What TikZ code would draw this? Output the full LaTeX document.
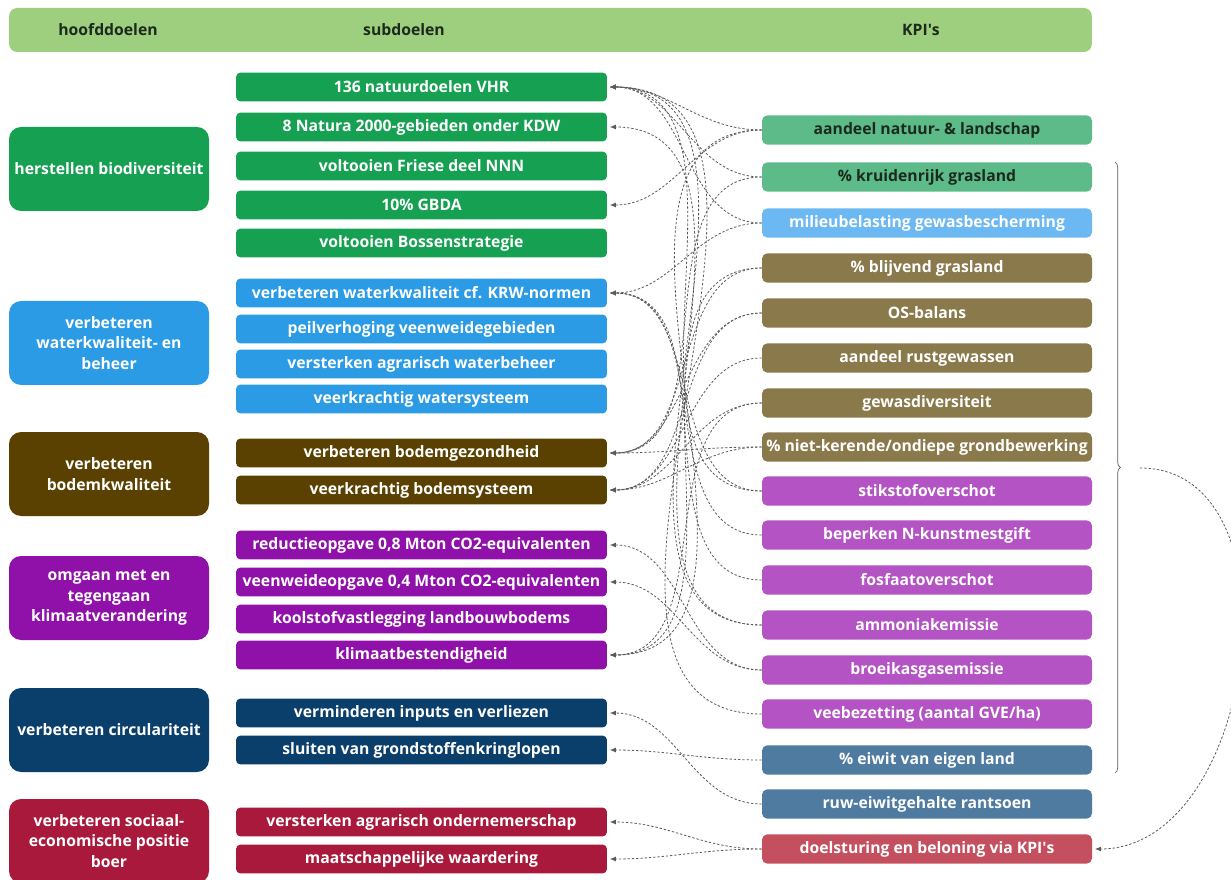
\documentclass[tikz,border=0pt]{standalone}
\usepackage{fontspec}
\setmainfont{Open Sans}
\usetikzlibrary{arrows.meta}
\usetikzlibrary{decorations.pathreplacing}
\definecolor{kopbalk}{HTML}{9DCF7E}
\definecolor{groen}{HTML}{16A052}
\definecolor{lichtgroen}{HTML}{5DBB8A}
\definecolor{blauw}{HTML}{2A9BE4}
\definecolor{lichtblauw}{HTML}{6CB8F2}
\definecolor{bruin}{HTML}{5A4101}
\definecolor{olijf}{HTML}{8A7A4B}
\definecolor{paars}{HTML}{9011A9}
\definecolor{lichtpaars}{HTML}{B453C4}
\definecolor{marine}{HTML}{0B3F6B}
\definecolor{staalblauw}{HTML}{4F7BA1}
\definecolor{karmijn}{HTML}{A8193B}
\definecolor{roze}{HTML}{C4505F}
\definecolor{lijn}{HTML}{5A5A5A}
\definecolor{donkertekst}{HTML}{1C2A1E}

\begin{document}
\begin{tikzpicture}[x=0.75pt, y=-0.75pt, font=\fontsize{11.8}{15.3}\selectfont\bfseries]
            \tikzstyle{hoofddoel} = [rounded corners=9pt, text=white, align=center, minimum width=150pt, minimum height=63pt, inner sep=1pt]
            \tikzstyle{subdoel} = [rounded corners=3pt, text=white, minimum width=278pt, minimum height=21.5pt, inner sep=1pt]
            \tikzstyle{kpi} = [rounded corners=4pt, text=white, minimum width=247.5pt, minimum height=22pt, inner sep=1pt]
            \tikzstyle{koppeling} = [lijn, line width=0.6pt, dash pattern=on 1.8pt off 1.4pt, -{Latex[length=4.5pt, width=3.6pt]}, shorten >=2pt]
            \useasboundingbox (0, 0) rectangle (1231, 880);
            % kopbalk
            \node[fill=kopbalk, rounded corners=6pt, minimum width=812pt, minimum height=33pt] (kop) at (550.5, 30) {};
            \node[text=donkertekst] (kopa) at (108, 30) {hoofddoelen};
            \node[text=donkertekst] (kopb) at (404, 30) {subdoelen};
            \node[text=donkertekst] (kopc) at (921, 30) {KPI\textquotesingle s};
            % hoofddoelen
            \node[hoofddoel, fill=groen] (h1) at (109, 169) {herstellen biodiversiteit};
            \node[hoofddoel, fill=blauw] (h2) at (109, 343) {verbeteren\\waterkwaliteit- en\\beheer};
            \node[hoofddoel, fill=bruin] (h3) at (109, 474) {verbeteren\\bodemkwaliteit};
            \node[hoofddoel, fill=paars] (h4) at (109, 598) {omgaan met en\\tegengaan\\klimaatverandering};
            \node[hoofddoel, fill=marine] (h5) at (109, 730) {verbeteren circulariteit};
            \node[hoofddoel, fill=karmijn] (h6) at (109, 841) {verbeteren sociaal-\\economische positie\\boer};
            % subdoelen
            \node[subdoel, fill=groen] (s1) at (421.5, 87) {136 natuurdoelen VHR};
            \node[subdoel, fill=groen] (s2) at (421.5, 127) {8 Natura 2000-gebieden onder KDW};
            \node[subdoel, fill=groen] (s3) at (421.5, 166) {voltooien Friese deel NNN};
            \node[subdoel, fill=groen] (s4) at (421.5, 205) {10\% GBDA};
            \node[subdoel, fill=groen] (s5) at (421.5, 243) {voltooien Bossenstrategie};
            \node[subdoel, fill=blauw] (s6) at (421.5, 293) {verbeteren waterkwaliteit cf. KRW-normen};
            \node[subdoel, fill=blauw] (s7) at (421.5, 329) {peilverhoging veenweidegebieden};
            \node[subdoel, fill=blauw] (s8) at (421.5, 364) {versterken agrarisch waterbeheer};
            \node[subdoel, fill=blauw] (s9) at (421.5, 399) {veerkrachtig watersysteem};
            \node[subdoel, fill=bruin] (s10) at (421.5, 453) {verbeteren bodemgezondheid};
            \node[subdoel, fill=bruin] (s11) at (421.5, 490) {veerkrachtig bodemsysteem};
            \node[subdoel, fill=paars] (s12) at (421.5, 545) {reductieopgave 0,8 Mton CO2-equivalenten};
            \node[subdoel, fill=paars] (s13) at (421.5, 582) {veenweideopgave 0,4 Mton CO2-equivalenten};
            \node[subdoel, fill=paars] (s14) at (421.5, 619) {koolstofvastlegging landbouwbodems};
            \node[subdoel, fill=paars] (s15) at (421.5, 655) {klimaatbestendigheid};
            \node[subdoel, fill=marine] (s16) at (421.5, 713) {verminderen inputs en verliezen};
            \node[subdoel, fill=marine] (s17) at (421.5, 750) {sluiten van grondstoffenkringlopen};
            \node[subdoel, fill=karmijn] (s18) at (421.5, 822) {versterken agrarisch ondernemerschap};
            \node[subdoel, fill=karmijn] (s19) at (421.5, 859) {maatschappelijke waardering};
            % KPI's
            \node[kpi, fill=lichtgroen, text=donkertekst] (k1) at (927, 130) {aandeel natuur- \& landschap};
            \node[kpi, fill=lichtgroen, text=donkertekst] (k2) at (927, 177) {\% kruidenrijk grasland};
            \node[kpi, fill=lichtblauw] (k3) at (927, 223) {milieubelasting gewasbescherming};
            \node[kpi, fill=olijf] (k4) at (927, 268) {\% blijvend grasland};
            \node[kpi, fill=olijf] (k5) at (927, 313) {OS-balans};
            \node[kpi, fill=olijf] (k6) at (927, 358) {aandeel rustgewassen};
            \node[kpi, fill=olijf] (k7) at (927, 403) {gewasdiversiteit};
            \node[kpi, fill=olijf] (k8) at (927, 447) {\% niet-kerende/ondiepe grondbewerking};
            \node[kpi, fill=lichtpaars] (k9) at (927, 491) {stikstofoverschot};
            \node[kpi, fill=lichtpaars] (k10) at (927, 535) {beperken N-kunstmestgift};
            \node[kpi, fill=lichtpaars] (k11) at (927, 580) {fosfaatoverschot};
            \node[kpi, fill=lichtpaars] (k12) at (927, 625) {ammoniakemissie};
            \node[kpi, fill=lichtpaars] (k13) at (927, 670) {broeikasgasemissie};
            \node[kpi, fill=lichtpaars] (k14) at (927, 714) {veebezetting (aantal GVE/ha)};
            \node[kpi, fill=staalblauw] (k15) at (927, 760) {\% eiwit van eigen land};
            \node[kpi, fill=staalblauw] (k16) at (927, 804) {ruw-eiwitgehalte rantsoen};
            \node[kpi, fill=roze] (k17) at (927, 849) {doelsturing en beloning via KPI\textquotesingle s};
            % koppelingen KPI -> subdoel
            \foreach \k/\s in {k1/s1, k1/s4, k1/s15, k2/s1, k2/s10, k3/s1, k3/s6,
                               k4/s10, k4/s15, k5/s10, k5/s11, k6/s11, k7/s11, k7/s15,
                               k8/s10, k8/s11, k9/s1, k9/s6, k10/s6, k11/s6, k12/s1, k12/s2,
                               k13/s12, k13/s13, k14/s1, k15/s17, k16/s16, k17/s18, k17/s19} {
                \draw[koppeling] (\k.west) to[out=180, in=0] (\s.east);
            }
            % accolade rond de KPI's
            \draw[lijn, line width=0.5pt, decorate, decoration={brace, amplitude=4pt}] (1115, 162) -- (1115, 773);
            \coordinate (accolade) at (1140, 468);
            \draw[koppeling] (accolade) to[out=0, in=0, looseness=1.1] (k17.east);
        \end{tikzpicture}
\end{document}
